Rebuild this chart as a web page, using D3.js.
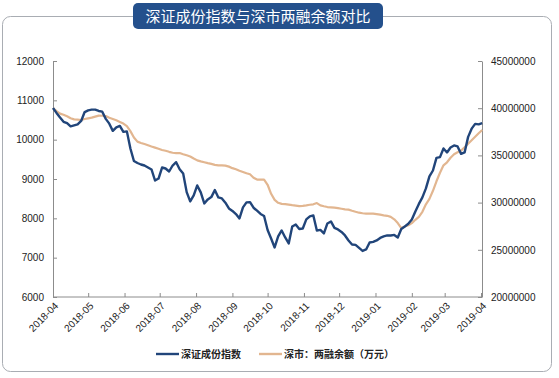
<!DOCTYPE html>
<html>
<head>
<meta charset="utf-8">
<script src="https://cdn.jsdelivr.net/npm/d3@7"></script>
<style>
  body { margin: 0; background: #fff; }
  svg { display: block; }
</style>
</head>
<body>
<div id="chart"></div>
<script>
// sampled every 3 days from 2018-04-01
const startDate = "2018-04-01";
const stepDays = 3;

const szIndex = [
  10804, 10680, 10562, 10455, 10420, 10339, 10364, 10389, 10476, 10702,
  10745, 10763, 10763, 10730, 10712, 10529, 10407, 10224, 10313, 10351,
  10198, 10211, 9776, 9458, 9407, 9369, 9343, 9293, 9242, 8962,
  9012, 9292, 9267, 9191, 9343, 9428, 9250, 9140, 8667, 8430,
  8583, 8836, 8660, 8379, 8481, 8540, 8718, 8532, 8507, 8397,
  8252, 8189, 8108, 7998, 8278, 8405, 8413, 8270, 8194, 8112,
  8061, 7705, 7489, 7260, 7540, 7692, 7514, 7362, 7794, 7845,
  7730, 7743, 7972, 8048, 8074, 7692, 7705, 7616, 7870, 7921,
  7756, 7718, 7654, 7565, 7438, 7336, 7324, 7247, 7171, 7209,
  7387, 7400, 7438, 7502, 7540, 7565, 7565, 7578, 7514, 7730,
  7794, 7862, 7972, 8176, 8367, 8532, 8761, 9066, 9216, 9536,
  9555, 9776, 9675, 9802, 9853, 9827, 9639, 9675, 10071, 10280,
  10402, 10389, 10420
];

// 万元
const marginBalance = [
  40020000, 39690000, 39430000, 39310000, 39150000, 38940000, 38820000, 38790000, 38750000, 38860000,
  38930000, 39000000, 39110000, 39210000, 39200000, 39170000, 38980000, 38850000, 38720000, 38550000,
  38370000, 38100000, 37570000, 36900000, 36460000, 36320000, 36200000, 36070000, 35940000, 35820000,
  35700000, 35570000, 35490000, 35380000, 35280000, 35250000, 35250000, 35120000, 35010000, 34890000,
  34670000, 34470000, 34370000, 34280000, 34180000, 34100000, 34000000, 33950000, 33950000, 33920000,
  33810000, 33650000, 33530000, 33380000, 33250000, 33110000, 33000000, 32640000, 32440000, 32440000,
  32440000, 31890000, 30930000, 30290000, 29980000, 29870000, 29840000, 29790000, 29730000, 29680000,
  29620000, 29660000, 29710000, 29770000, 29820000, 29950000, 29710000, 29610000, 29530000, 29500000,
  29460000, 29410000, 29350000, 29290000, 29260000, 29140000, 29030000, 28930000, 28870000, 28830000,
  28830000, 28830000, 28780000, 28720000, 28650000, 28600000, 28490000, 28230000, 27830000, 27300000,
  27470000, 27600000, 27830000, 28180000, 28490000, 29030000, 29820000, 30400000, 31250000, 32260000,
  33160000, 33950000, 34270000, 34750000, 35120000, 35330000, 35510000, 35860000, 36230000, 36600000,
  36970000, 37340000, 37690000
];

const leftTicks = [6000, 7000, 8000, 9000, 10000, 11000, 12000];
const rightTicks = [20000000, 25000000, 30000000, 35000000, 40000000, 45000000];
const titleText = "深证成份指数与深市两融余额对比";
const seriesNames = ["深证成份指数", "深市：两融余额（万元）"];

const W = 559, H = 378;
const plot = { left: 53, right: 482, top: 61, bottom: 297 };
const blue = "#21457a", tan = "#e2b690", axisColor = "#8c8c8c";

const svg = d3.select("#chart").append("svg")
  .attr("width", W).attr("height", H);

svg.append("rect").attr("width", W).attr("height", H).attr("fill", "#fff");

// outer frame
svg.append("rect")
  .attr("x", 2.5).attr("y", 16.5)
  .attr("width", 549).attr("height", 355)
  .attr("rx", 8)
  .attr("fill", "none")
  .attr("stroke", "#a9adb3")
  .attr("stroke-width", 1);

// title tab
svg.append("rect")
  .attr("x", 133).attr("y", 3)
  .attr("width", 250).attr("height", 26)
  .attr("rx", 5)
  .attr("fill", "#24508c");
svg.append("text")
  .attr("x", 258).attr("y", 21.5)
  .attr("text-anchor", "middle")
  .attr("fill", "#fff")
  .style("font-family", "'Noto Sans CJK SC', sans-serif")
  .style("font-size", "15px")
  .text(titleText);

const parse = d3.timeParse("%Y-%m-%d");
const t0 = parse(startDate);
const dates = szIndex.map((_, i) => d3.timeDay.offset(t0, i * stepDays));

const x = d3.scaleTime()
  .domain([t0, d3.timeDay.offset(t0, (szIndex.length - 1) * stepDays)])
  .range([plot.left, 482.2]);

const yL = d3.scaleLinear().domain([6000, 12000]).range([plot.bottom, plot.top]);
const yR = d3.scaleLinear().domain([20000000, 45000000]).range([plot.bottom, plot.top]);

const axisFont = "'Liberation Sans', Arial, sans-serif";

function styleAxis(g) {
  g.selectAll("path").attr("stroke", axisColor);
  g.selectAll("line").attr("stroke", axisColor);
  g.selectAll("text")
    .attr("fill", "#222")
    .style("font-family", axisFont)
    .style("font-size", "10px");
}

svg.append("g")
  .attr("transform", `translate(${plot.left},0)`)
  .call(d3.axisLeft(yL).tickValues(leftTicks).tickFormat(d3.format("d")).tickSizeInner(-4).tickSizeOuter(0).tickPadding(9))
  .call(styleAxis);

svg.append("g")
  .attr("transform", `translate(${plot.right},0)`)
  .call(d3.axisRight(yR).tickValues(rightTicks).tickFormat(d3.format("d")).tickSizeInner(-4).tickSizeOuter(0).tickPadding(9))
  .call(styleAxis);

const monthTicks = d3.timeMonth.range(parse("2018-04-01"), parse("2019-04-02"));
const xAxis = svg.append("g")
  .attr("transform", `translate(0,${plot.bottom})`)
  .call(d3.axisBottom(x).tickValues(monthTicks).tickFormat(d3.timeFormat("%Y-%m")).tickSizeInner(-4).tickSizeOuter(0))
  .call(styleAxis);
xAxis.select(".domain").attr("d", `M${plot.left},0H${plot.right}`);
xAxis.selectAll("text")
  .attr("text-anchor", "end")
  .attr("dy", "0.35em")
  .attr("transform", "translate(3,7) rotate(-45)")
  .attr("y", 0).attr("x", 0);

const lineL = d3.line().x((d, i) => x(dates[i])).y(d => yL(d));
const lineR = d3.line().x((d, i) => x(dates[i])).y(d => yR(d));

svg.append("path")
  .datum(marginBalance)
  .attr("d", lineR)
  .attr("fill", "none")
  .attr("stroke", tan)
  .attr("stroke-width", 2.2)
  .attr("stroke-linejoin", "round");

svg.append("path")
  .datum(szIndex)
  .attr("d", lineL)
  .attr("fill", "none")
  .attr("stroke", blue)
  .attr("stroke-width", 2.4)
  .attr("stroke-linejoin", "round");

// legend
const legend = [
  { name: seriesNames[0], color: blue, x: 156 },
  { name: seriesNames[1], color: tan, x: 259 }
];
const lg = svg.append("g").selectAll("g").data(legend).join("g")
  .attr("transform", d => `translate(${d.x},354)`);
lg.append("line")
  .attr("x1", 0).attr("x2", 23)
  .attr("stroke", d => d.color).attr("stroke-width", 2.4);
lg.append("text")
  .attr("x", 25).attr("dy", "0.35em")
  .attr("fill", "#222")
  .style("font-family", "'Noto Sans CJK SC', sans-serif")
  .style("font-size", "10px")
  .style("font-weight", "bold")
  .text(d => d.name);
</script>
</body>
</html>
